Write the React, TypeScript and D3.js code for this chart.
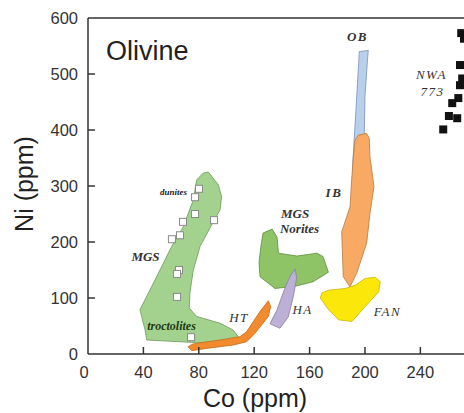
import { curveLinearClosed, line, scaleLinear } from "d3";

type Pt = [number, number];

// axis ticks
const xTicks = [0, 40, 80, 120, 160, 200, 240];
const yTicks = [0, 100, 200, 300, 400, 500, 600];

// compositional fields (Co ppm, Ni ppm)
const mgsField: Pt[] = [
  [86.9, 325], [94.1, 302], [96.5, 281], [95.3, 257], [90.5, 236], [80.9, 192],
  [76, 150], [73.6, 109], [73.1, 82], [78.5, 67], [95.3, 55], [104.7, 43],
  [108.5, 31], [107.4, 25], [80.9, 20], [42.4, 25], [41.2, 43], [37.5, 79],
  [50.8, 144], [60.4, 192], [68.8, 227], [76, 275], [78.5, 311], [83.2, 323],
];
const htField: Pt[] = [
  [72.2, 13], [75.8, 18], [95.3, 25], [109.7, 31], [114.6, 40], [124.2, 76],
  [130.2, 95], [131.9, 85], [130.2, 67], [120.6, 37], [114.6, 22], [104.9, 16],
  [85.7, 10], [74.9, 6],
];
const noritesField: Pt[] = [
  [126.4, 216], [132.9, 223], [136.5, 209], [137.5, 180], [150.9, 175], [165.3, 180],
  [169.7, 174], [173.6, 146], [162.5, 129], [149.5, 121], [135, 117], [124.2, 138],
  [123.5, 164], [125, 195],
];
const haField: Pt[] = [
  [149.5, 152], [150.7, 136], [148.2, 102], [144.6, 66], [138.6, 46], [131.4, 54],
  [136.5, 79], [142.2, 118], [145.8, 138],
];
const fanField: Pt[] = [
  [169, 109], [167.7, 100], [173.8, 79], [181, 61], [190.6, 58], [200.2, 85],
  [209.9, 111], [211, 129], [207.4, 137], [200.2, 135], [193, 123], [185.8, 117],
  [173.8, 114],
];
const obField: Pt[] = [
  [195.9, 540], [202.4, 542], [202, 532], [200, 460], [199.5, 394], [196.4, 311],
  [192, 266], [190.4, 271], [191.3, 346], [193.5, 436],
];
const ibField: Pt[] = [
  [195.2, 391], [201.2, 394], [203.1, 385], [203.6, 352], [206.5, 299], [203.6, 251],
  [201.2, 198], [194, 144], [189.2, 120], [184.3, 138], [183.2, 218], [189.2, 263],
  [190.4, 311], [191.6, 352], [192.8, 382],
];

// MGS olivine analyses (open squares) and NWA 773 (filled squares)
const mgsSamples: Pt[] = [
  [80.1, 295], [77.3, 280], [77.3, 250], [68.6, 236], [91, 239], [66.4, 212],
  [60.6, 205], [65.7, 150], [64.3, 143], [64.3, 102], [74.4, 30],
];
const nwa773: Pt[] = [
  [269.5, 573], [271.5, 563], [268.6, 516], [270.2, 492], [268.6, 480], [267.4, 457],
  [263, 448], [260.6, 425], [266.6, 421], [256.5, 401],
];

// field labels: [text, Co, Ni]
const fieldLabels: [string, number, number][] = [
  ["MGS", 41.5, 166],
  ["troctolites", 60.3, 43],
  ["HT", 109, 57],
  ["HA", 155, 71],
  ["MGS", 149.5, 243],
  ["Norites", 152.7, 216],
  ["IB", 177.6, 280],
  ["OB", 194.6, 559],
  ["FAN", 216.2, 68],
  ["NWA", 248, 491],
  ["773", 248.7, 461],
];
const boldLabels = ["troctolites", "MGS", "Norites", "IB", "OB"];

const App = () => {
  const width = 464;
  const height = 413;
  const margin = { top: 18, right: 0, bottom: 59, left: 88 };

  const x = scaleLinear().domain([0, 271.5]).range([margin.left, width - margin.right]);
  const y = scaleLinear().domain([0, 600]).range([height - margin.bottom, margin.top]);
  const area = line<Pt>()
    .x((d) => x(d[0]))
    .y((d) => y(d[1]))
    .curve(curveLinearClosed);

  const fields = [
    { key: "mgs", pts: mgsField, fill: "#a3d28e", stroke: "#6b9a55" },
    { key: "norites", pts: noritesField, fill: "#8fc466", stroke: "#5f8c3c" },
    { key: "ha", pts: haField, fill: "#bdb0d6", stroke: "#8a7ca6" },
    { key: "ht", pts: htField, fill: "#f28b2e", stroke: "#c86a18" },
    { key: "fan", pts: fanField, fill: "#fbe70a", stroke: "#c9b400" },
    { key: "ob", pts: obField, fill: "#b9d0ec", stroke: "#7a8fb5" },
    { key: "ib", pts: ibField, fill: "#f8aa65", stroke: "#b97a3e" },
  ];

  const axisColor = "#333";
  const tickLen = 7;
  const sq = 7;

  return (
    <svg
      width={width}
      height={height}
      style={{ position: "absolute", left: 0, top: 0, background: "#fff" }}
    >
      <defs>
        <clipPath id="plot">
          <rect x={margin.left} y={margin.top} width={width - margin.left} height={y(0) - margin.top} />
        </clipPath>
      </defs>

      <g clipPath="url(#plot)">
        {fields.map((f) => (
          <path key={f.key} d={area(f.pts)!} fill={f.fill} stroke={f.stroke} strokeWidth={0.8} />
        ))}
        {mgsSamples.map((d, i) => (
          <rect
            key={`mgs-${i}`}
            x={x(d[0]) - sq / 2}
            y={y(d[1]) - sq / 2}
            width={sq}
            height={sq}
            fill="#fff"
            stroke="#8a8a8a"
            strokeWidth={1}
          />
        ))}
        {nwa773.map((d, i) => (
          <rect
            key={`nwa-${i}`}
            x={x(d[0]) - 4}
            y={y(d[1]) - 4}
            width={8}
            height={8}
            fill="#111"
          />
        ))}
      </g>

      {/* frame */}
      <line x1={x(0)} x2={x(0)} y1={y(600)} y2={y(0)} stroke={axisColor} strokeWidth={1.5} />
      <line x1={x(0)} x2={width} y1={y(0)} y2={y(0)} stroke={axisColor} strokeWidth={1.5} />
      <line x1={x(0)} x2={width} y1={y(600)} y2={y(600)} stroke={axisColor} strokeWidth={1.5} />

      {/* y axis */}
      {yTicks.map((t) => (
        <g key={`y-${t}`}>
          {t > 0 && t < 600 && (
            <line x1={x(0)} x2={x(0) + tickLen} y1={y(t)} y2={y(t)} stroke={axisColor} strokeWidth={1.5} />
          )}
          <text
            x={78}
            y={y(t) + 6}
            textAnchor="end"
            fontFamily="Liberation Sans, Arial, sans-serif"
            fontSize={16.5}
            fill="#333"
          >
            {t}
          </text>
        </g>
      ))}

      {/* x axis */}
      {xTicks.map((t) => (
        <g key={`x-${t}`}>
          {t > 0 && (
            <line x1={x(t)} x2={x(t)} y1={y(0)} y2={y(0) - tickLen} stroke={axisColor} strokeWidth={1.5} />
          )}
          <text
            x={t === 0 ? x(t) - 4 : x(t)}
            y={378}
            textAnchor="middle"
            fontFamily="Liberation Sans, Arial, sans-serif"
            fontSize={16.5}
            fill="#333"
          >
            {t}
          </text>
        </g>
      ))}

      <text
        x={255}
        y={407}
        textAnchor="middle"
        fontFamily="Liberation Sans, Arial, sans-serif"
        fontSize={25}
        fill="#222"
      >
        Co (ppm)
      </text>
      <text
        transform="translate(33,184) rotate(-90)"
        textAnchor="middle"
        fontFamily="Liberation Sans, Arial, sans-serif"
        fontSize={25}
        fill="#222"
      >
        Ni (ppm)
      </text>

      <text x={106} y={60} fontFamily="Liberation Sans, Arial, sans-serif" fontSize={27} fill="#222">
        Olivine
      </text>

      {/* field labels */}
      <text
        x={x(71.5)}
        y={y(284)}
        textAnchor="end"
        fontFamily="Liberation Serif, Times New Roman, serif"
        fontStyle="italic"
        fontWeight="bold"
        fontSize={9}
        fill="#222"
      >
        dunites
      </text>
      {fieldLabels.map(([label, cx, cy], i) => (
        <text
          key={`lbl-${i}`}
          x={x(cx)}
          y={y(cy)}
          textAnchor="middle"
          fontFamily="Liberation Serif, Times New Roman, serif"
          fontStyle="italic"
          fontWeight={boldLabels.includes(label) ? "bold" : "normal"}
          fontSize={label === "troctolites" ? 12 : 13}
          letterSpacing={label.length <= 3 && label !== "MGS" ? 1.5 : 0}
          fill={label === "troctolites" ? "#1f3a14" : "#333"}
        >
          {label}
        </text>
      ))}
    </svg>
  );
};

export default App;
